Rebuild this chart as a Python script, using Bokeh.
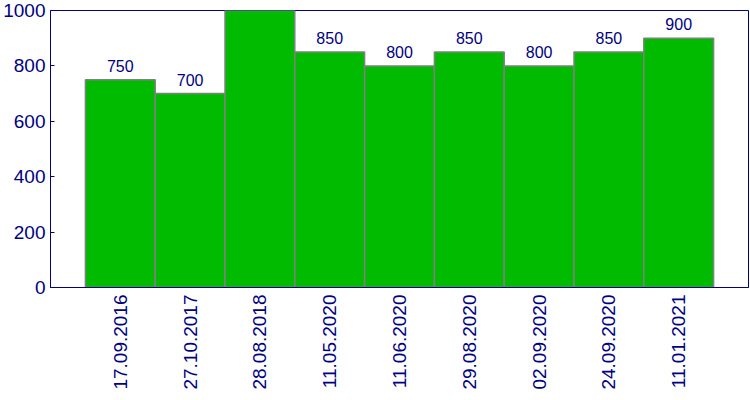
from bokeh.plotting import figure
from bokeh.models import ColumnDataSource, FactorRange, LabelSet, FixedTicker, Range1d
from bokeh.core.properties import value
from bokeh.embed import file_html
from bokeh.resources import INLINE
import math

dates = ["17.09.2016", "27.10.2017", "28.08.2018", "11.05.2020", "11.06.2020",
         "29.08.2020", "02.09.2020", "24.09.2020", "11.01.2021"]
values = [750, 700, 1000, 850, 800, 850, 800, 850, 900]
y_ticks = [0, 200, 400, 600, 800, 1000]

NAVY = "#000080"
GREEN = "#00BB00"
FONT = "Liberation Sans"

src = ColumnDataSource(dict(x=dates, top=values, label=[str(v) for v in values]))

p = figure(width=750, height=400, output_backend="svg", toolbar_location=None,
           x_range=FactorRange(factors=dates, range_padding=0.5, range_padding_units="absolute"),
           y_range=Range1d(0, 1000),
           frame_width=698, frame_height=277,
           min_border_left=0, min_border_right=2, min_border_top=10, min_border_bottom=0)

p.vbar(x="x", top="top", width=1.0, source=src, fill_color=GREEN,
       line_color="#808080", line_width=1.5)

labels = LabelSet(x="x", y="top", text="label", source=src, y_offset=14,
                  text_align="center", text_baseline="middle",
                  text_color=NAVY, text_font=value(FONT), text_font_size="16px")
p.add_layout(labels)

p.xgrid.visible = False
p.ygrid.visible = False
p.outline_line_color = NAVY
p.outline_line_width = 1
p.background_fill_color = "white"
p.border_fill_color = "white"

ya = p.yaxis[0]
ya.ticker = FixedTicker(ticks=y_ticks)
ya.axis_line_color = NAVY
ya.major_tick_line_color = NAVY
ya.major_tick_in = 4
ya.major_tick_out = 0
ya.minor_tick_line_color = None
ya.major_label_text_color = NAVY
ya.major_label_text_font = FONT
ya.major_label_text_font_size = "19px"
ya.major_label_standoff = 5

xa = p.xaxis[0]
xa.axis_line_color = NAVY
xa.major_tick_line_color = None
xa.minor_tick_line_color = None
xa.major_label_orientation = math.pi / 2
xa.major_label_text_color = NAVY
xa.major_label_text_font = FONT
xa.major_label_text_font_size = "19px"
xa.major_label_standoff = 1

open("out.html", "w").write(file_html(p, INLINE))
